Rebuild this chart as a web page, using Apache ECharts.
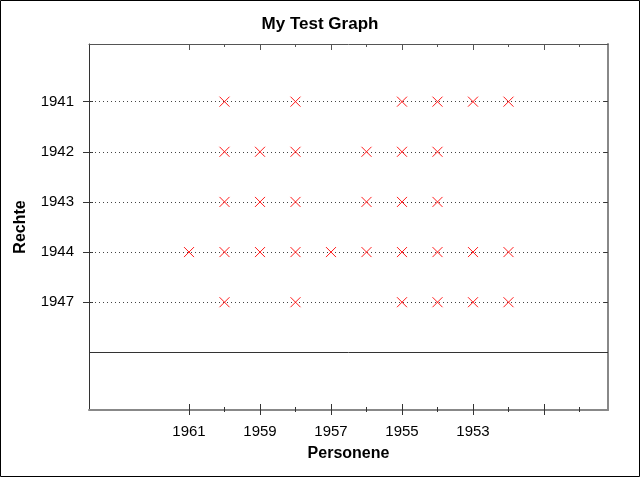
<!DOCTYPE html>
<html>
<head>
<meta charset="utf-8">
<script src="https://cdn.jsdelivr.net/npm/echarts@6/dist/echarts.min.js"></script>
<style>
html,body{margin:0;padding:0;background:#fff;}
#chart{width:640px;height:477px;}
</style>
</head>
<body>
<div id="chart"></div>
<script>
// ---- data ----
const categories = ['1941', '1942', '1943', '1944', '1947'];
const row1941 = [1960, 1958, 1955, 1954, 1953, 1952];
const row1942 = [1960, 1959, 1958, 1956, 1955, 1954];
const row1943 = [1960, 1959, 1958, 1956, 1955, 1954];
const row1944 = [1961, 1960, 1959, 1958, 1957, 1956, 1955, 1954, 1953, 1952];
const row1947 = [1960, 1958, 1955, 1954, 1953, 1952];
const xLabelValues = [1961, 1959, 1957, 1955, 1953];
const xMajorTicks = [1961, 1959, 1957, 1955, 1953, 1951];
const xMinorTicks = [1960, 1958, 1956, 1954, 1952, 1950];

const rows = [row1941, row1942, row1943, row1944, row1947];
const points = [];
rows.forEach((r, i) => r.forEach(x => points.push([x, i])));
const catIdx = categories.map((c, i) => i);

const XMIN = 1949.197, XMAX = 1963.817;
const YMIN = -1.15, YMAX = 6.15;
const FONT = 'Liberation Sans, Arial, sans-serif';

function xAx(opts) {
  const o = Object.assign({
    type: 'value', inverse: true, min: XMIN, max: XMAX, position: 'bottom',
    axisLine: { show: false }, splitLine: { show: false },
    axisLabel: { show: false }
  }, opts);
  o.axisLine = Object.assign({ onZero: false }, o.axisLine);
  return o;
}
function yAx(opts) {
  const o = Object.assign({
    type: 'value', inverse: true, min: YMIN, max: YMAX, position: 'left',
    axisLine: { show: false }, splitLine: { show: false },
    axisLabel: { show: false }
  }, opts);
  o.axisLine = Object.assign({ onZero: false }, o.axisLine);
  return o;
}

const chart = echarts.init(document.getElementById('chart'), null, { renderer: 'canvas' });
chart.setOption({
  animation: false,
  backgroundColor: '#fff',
  title: {
    text: 'My Test Graph', left: 'center', top: 11,
    textStyle: { fontFamily: FONT, fontSize: 17, fontWeight: 'bold', color: '#000' }
  },
  grid: { left: 89, top: 44, right: 32, bottom: 67, containLabel: false },
  xAxis: [
    xAx({
      name: 'Personene', nameLocation: 'middle', nameGap: 36,
      nameTextStyle: { fontFamily: FONT, fontSize: 16, fontWeight: 'bold', color: '#000' },
      axisLine: { show: true, onZero: false, lineStyle: { color: '#888', width: 2 } },
      axisTick: { show: true, inside: true, length: 6, customValues: xMajorTicks, lineStyle: { color: '#333' } },
      axisLabel: { show: true, customValues: xLabelValues, margin: 14, fontFamily: FONT, fontSize: 15, color: '#000',
        formatter: v => String(Math.round(v)) }
    }),
    xAx({ axisTick: { show: true, inside: false, length: 5, customValues: xMajorTicks, lineStyle: { color: '#333' } } }),
    xAx({ axisTick: { show: true, inside: true, length: 3, customValues: xMinorTicks, lineStyle: { color: '#333' } } }),
    xAx({ axisTick: { show: true, inside: false, length: 2, customValues: xMinorTicks, lineStyle: { color: '#333' } } }),
    xAx({ position: 'top',
      axisLine: { show: true, onZero: false, lineStyle: { color: '#555', width: 1 } },
      axisTick: { show: true, inside: true, length: 6, customValues: xMajorTicks, lineStyle: { color: '#555' } } }),
    xAx({ position: 'top', axisTick: { show: true, inside: true, length: 3, customValues: xMinorTicks, lineStyle: { color: '#555' } } })
  ],
  yAxis: [
    yAx({
      name: 'Rechte', nameLocation: 'middle', nameGap: 60, nameRotate: 90,
      nameTextStyle: { fontFamily: FONT, fontSize: 16, fontWeight: 'bold', color: '#000' },
      axisLine: { show: true, onZero: false, lineStyle: { color: '#333', width: 1 } },
      axisTick: { show: true, inside: false, length: 6, customValues: catIdx, lineStyle: { color: '#333' } },
      axisLabel: { show: true, customValues: catIdx, margin: 15, fontFamily: FONT, fontSize: 15, color: '#000',
        formatter: v => categories[Math.round(v)] }
    }),
    yAx({ axisTick: { show: true, inside: true, length: 4, customValues: catIdx, lineStyle: { color: '#333' } } }),
    yAx({ position: 'right',
      axisLine: { show: true, onZero: false, lineStyle: { color: '#888', width: 2 } },
      axisTick: { show: true, inside: true, length: 5, customValues: catIdx, lineStyle: { color: '#333' } } })
  ],
  series: [
    {
      type: 'scatter', data: [], xAxisIndex: 0, yAxisIndex: 0, z: 1, silent: true,
      markLine: {
        silent: true, symbol: 'none', label: { show: false }, animation: false,
        data: catIdx.map(i => ({ yAxis: i, lineStyle: { type: [1, 3], color: '#444', width: 1 } }))
          .concat([{ yAxis: categories.length, lineStyle: { type: 'solid', color: '#333', width: 1 } }])
      }
    },
    {
      type: 'scatter', xAxisIndex: 0, yAxisIndex: 0, z: 5,
      symbol: 'path://M0,0L10,10M10,0L0,10', symbolSize: 10,
      itemStyle: { color: 'rgba(0,0,0,0)', borderColor: '#ff1a1a', borderWidth: 1, opacity: 1 },
      data: points
    }
  ],
  graphic: [{
    type: 'rect', z: 100, silent: true,
    shape: { x: 0.5, y: 0.5, width: 639, height: 476 },
    style: { fill: 'none', stroke: '#000', lineWidth: 1 }
  }]
});
</script>
</body>
</html>
